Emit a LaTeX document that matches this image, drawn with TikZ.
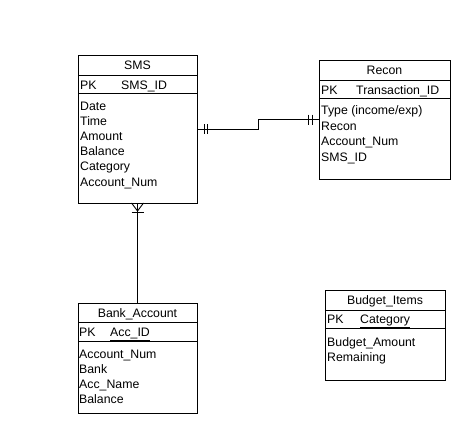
\documentclass[tikz,border=0pt]{standalone}
\usepackage{fontspec}
\setmainfont{Liberation Sans}
\usetikzlibrary{calc}
\tikzset{
  ent/.style={draw, line width=0.9pt, anchor=north west, inner sep=0pt, outer sep=0pt},
  sep/.style={line width=0.9pt},
  conn/.style={line width=0.9pt},
  txt/.style={font=\fontsize{12.3}{15}\selectfont, anchor=mid west, inner sep=0pt},
  ttl/.style={font=\fontsize{12.3}{15}\selectfont, anchor=mid, inner sep=0pt}
}
\begin{document}
\begin{tikzpicture}[x=1pt,y=-1pt]
\useasboundingbox[fill=white] (0,0) rectangle (470,433);
% entity boxes
\node[ent, minimum width=119pt, minimum height=148pt] (sms) at (78,55) {};
\node[ent, minimum width=131pt, minimum height=119pt] (recon) at (319,60) {};
\node[ent, minimum width=119pt, minimum height=110pt] (bank) at (78,303) {};
\node[ent, minimum width=120pt, minimum height=90pt] (budget) at (325,290) {};
% separators
\draw[sep] (sms.west |- 0,75) -- (sms.east |- 0,75);
\draw[sep] (sms.west |- 0,93) -- (sms.east |- 0,93);
\draw[sep] (recon.west |- 0,80) -- (recon.east |- 0,80);
\draw[sep] (recon.west |- 0,98) -- (recon.east |- 0,98);
\draw[sep] (bank.west |- 0,322) -- (bank.east |- 0,322);
\draw[sep] (bank.west |- 0,341) -- (bank.east |- 0,341);
\draw[sep] (budget.west |- 0,310) -- (budget.east |- 0,310);
\draw[sep] (budget.west |- 0,328) -- (budget.east |- 0,328);
% SMS
\node[ttl] (smst) at (137.5,67) {SMS};
\node[txt] (smspk) at (80,87) {PK};
\node[txt] (smsk) at (121,87) {\underline{SMS\_ID}};
\node[txt] (sms1) at (80,108) {Date};
\node[txt] (sms2) at (80,123) {Time};
\node[txt] (sms3) at (80,138) {Amount};
\node[txt] (sms4) at (80,153) {Balance};
\node[txt] (sms5) at (80,168) {Category};
\node[txt] (sms6) at (80,184) {Account\_Num};
% Recon
\node[ttl] (recont) at (384.5,72) {Recon};
\node[txt] (reconpk) at (321,92) {PK};
\node[txt] (reconk) at (356,92) {\underline{Transaction\_ID}};
\node[txt] (recon1) at (321,112) {Type (income/exp)};
\node[txt] (recon2) at (321,128) {Recon};
\node[txt] (recon3) at (321,143) {Account\_Num};
\node[txt] (recon4) at (321,159) {SMS\_ID};
% Bank_Account
\node[ttl] (bankt) at (137.5,315) {Bank\_Account};
\node[txt] (bankpk) at (79,334) {PK};
\node[txt] (bankk) at (110,334) {\underline{Acc\_ID}};
\node[txt] (bank1) at (79,356) {Account\_Num};
\node[txt] (bank2) at (79,371) {Bank};
\node[txt] (bank3) at (79,386) {Acc\_Name};
\node[txt] (bank4) at (79,401) {Balance};
% Budget_Items
\node[ttl] (budgett) at (385,302) {Budget\_Items};
\node[txt] (budgetpk) at (327,321) {PK};
\node[txt] (budgetk) at (360,321) {\underline{Category}};
\node[txt] (budget1) at (327,344) {Budget\_Amount};
\node[txt] (budget2) at (327,359) {Remaining};
% connector SMS -- Recon (one and only one on both ends)
\draw[conn] (sms.east) -- ++(61,0) |- (recon.west);
\draw[conn] ($(sms.east)+(7,-5)$) -- ++(0,10);
\draw[conn] ($(sms.east)+(10,-5)$) -- ++(0,10);
\draw[conn] ($(recon.west)+(-7,-5)$) -- ++(0,10);
\draw[conn] ($(recon.west)+(-11,-5)$) -- ++(0,10);
% connector SMS -- Bank_Account (one or many at SMS)
\draw[conn] (sms.south) -- (bank.north);
\draw[conn] ($(sms.south)+(-6,0)$) -- ($(sms.south)+(0,8)$) -- ($(sms.south)+(6,0)$);
\draw[conn] ($(sms.south)+(-6,9)$) -- ++(12,0);
\end{tikzpicture}
\end{document}
